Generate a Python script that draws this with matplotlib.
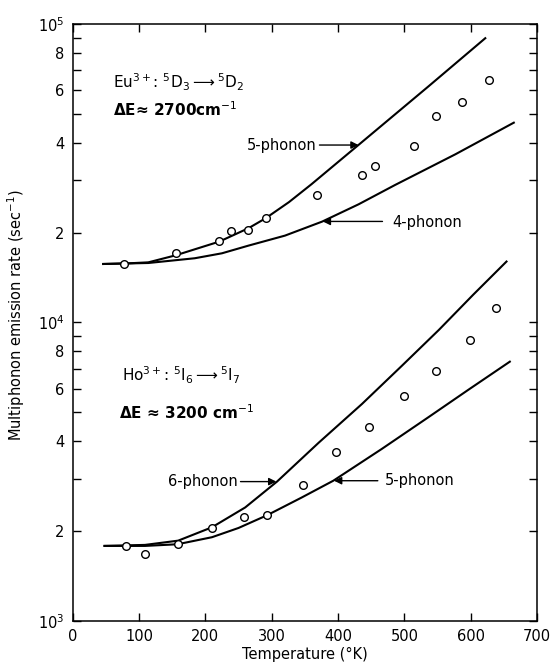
import numpy as np
import matplotlib
matplotlib.use("Agg")
import matplotlib.pyplot as plt
from matplotlib.ticker import LogLocator, FixedLocator, FuncFormatter

# -----------------------------------------------------------------------
# Data
# -----------------------------------------------------------------------

# Eu3+ 5D3 -> 5D2 (dE ~ 2700 cm^-1)
eu_T = [78, 155, 221, 238, 265, 291, 368, 436, 456, 514, 547, 587, 627]
eu_rate = [1.57e4, 1.71e4, 1.875e4, 2.03e4, 2.04e4, 2.24e4, 2.67e4,
           3.13e4, 3.35e4, 3.91e4, 4.93e4, 5.47e4, 6.49e4]

eu_5ph_T = [46, 84, 114, 155, 221, 265, 291, 326, 360, 431, 536, 622]
eu_5ph_rate = [1.57e4, 1.578e4, 1.59e4, 1.678e4, 1.866e4, 2.069e4, 2.235e4,
               2.53e4, 2.905e4, 3.935e4, 6.17e4, 8.96e4]

eu_4ph_T = [46, 114, 184, 225, 265, 320, 376, 431, 486, 577, 665]
eu_4ph_rate = [1.57e4, 1.582e4, 1.641e4, 1.705e4, 1.809e4, 1.954e4,
               2.177e4, 2.488e4, 2.888e4, 3.66e4, 4.67e4]

# Ho3+ 5I6 -> 5I7 (dE ~ 3200 cm^-1)
ho_T = [80, 109, 158, 210, 258, 293, 347, 397, 447, 499, 548, 599, 638]
ho_rate = [1.78e3, 1.67e3, 1.81e3, 2.05e3, 2.23e3, 2.26e3, 2.85e3,
           3.67e3, 4.45e3, 5.69e3, 6.86e3, 8.74e3, 1.12e4]

ho_6ph_T = [48, 109, 159, 210, 260, 308, 371, 436, 496, 552, 604, 654]
ho_6ph_rate = [1.784e3, 1.798e3, 1.858e3, 2.06e3, 2.40e3, 2.93e3,
               3.958e3, 5.33e3, 7.15e3, 9.44e3, 1.24e4, 1.60e4]

ho_5ph_T = [48, 109, 158, 210, 250, 293, 345, 393, 466, 536, 597, 659]
ho_5ph_rate = [1.784e3, 1.784e3, 1.807e3, 1.908e3, 2.049e3, 2.26e3,
               2.59e3, 2.951e3, 3.77e3, 4.81e3, 5.96e3, 7.39e3]

FS = 10.5

# -----------------------------------------------------------------------
# Figure
# -----------------------------------------------------------------------

fig = plt.figure(figsize=(5.55, 6.62), dpi=100)
ax = fig.add_axes([0.131, 0.062, 0.8366, 0.9018])

line_kw = dict(color="black", lw=1.5)
pt_kw = dict(ls="none", marker="o", ms=5.5, mfc="white", mec="black", mew=1.0)

ax.plot(eu_5ph_T, eu_5ph_rate, **line_kw)
ax.plot(eu_4ph_T, eu_4ph_rate, **line_kw)
ax.plot(eu_T, eu_rate, **pt_kw)

ax.plot(ho_6ph_T, ho_6ph_rate, **line_kw)
ax.plot(ho_5ph_T, ho_5ph_rate, **line_kw)
ax.plot(ho_T, ho_rate, **pt_kw)

ax.set_yscale("log")
ax.set_xlim(0, 700)
ax.set_ylim(1e3, 1e5)

ax.xaxis.set_major_locator(FixedLocator(np.arange(0, 701, 100)))
ax.yaxis.set_major_locator(LogLocator(base=10))
ax.yaxis.set_minor_locator(LogLocator(base=10, subs=np.arange(2, 10)))


def minor_label(v, pos):
    m = int(round(v / 10 ** np.floor(np.log10(v))))
    return str(m) if m in (2, 4, 6, 8) else ""


ax.yaxis.set_minor_formatter(FuncFormatter(minor_label))

ax.tick_params(which="both", direction="in", top=True, right=True,
               length=6, width=1.0, labelsize=FS, pad=6)
ax.tick_params(axis="x", which="minor", bottom=False, top=False)
for s in ax.spines.values():
    s.set_linewidth(1.1)

ax.set_xlabel("Temperature (°K)", fontsize=FS)
ax.xaxis.set_label_coords(0.5, -0.043)
ax.set_ylabel("Multiphonon emission rate (sec$^{-1}$)", fontsize=FS)
ax.yaxis.set_label_coords(-0.098, 0.513)

# labels for the two transitions
ax.text(61, 6.1e4, r"Eu$^{3+}$: $^5$D$_3$$\longrightarrow$$^5$D$_2$",
        fontsize=FS + 0.5, va="baseline", ha="left")
ax.text(61, 4.93e4, "ΔE≈ 2700cm$^{-1}$",
        fontsize=FS + 0.5, fontweight="bold", va="baseline", ha="left")
ax.text(74, 6.34e3, r"Ho$^{3+}$: $^5$I$_6$$\longrightarrow$$^5$I$_7$",
        fontsize=FS + 0.5, va="baseline", ha="left")
ax.text(70, 4.74e3, "ΔE ≈ 3200 cm$^{-1}$",
        fontsize=FS + 0.5, fontweight="bold", va="baseline", ha="left")

arrow_kw = dict(arrowstyle="-|>", color="black", lw=1.0, mutation_scale=11,
                shrinkA=0, shrinkB=0)

# Eu curve labels
ax.text(368, 3.93e4, "5-phonon", fontsize=FS, ha="right", va="center")
ax.annotate("", xy=(431, 3.93e4), xytext=(372, 3.93e4), arrowprops=arrow_kw)
ax.text(482, 2.16e4, "4-phonon", fontsize=FS, ha="left", va="center")
ax.annotate("", xy=(377, 2.18e4), xytext=(467, 2.18e4), arrowprops=arrow_kw)

# Ho curve labels
ax.text(249, 2.93e3, "6-phonon", fontsize=FS, ha="right", va="center")
ax.annotate("", xy=(307, 2.93e3), xytext=(253, 2.93e3), arrowprops=arrow_kw)
ax.text(471, 2.95e3, "5-phonon", fontsize=FS, ha="left", va="center")
ax.annotate("", xy=(394, 2.95e3), xytext=(460, 2.95e3), arrowprops=arrow_kw)

plt.savefig("out.png", dpi=100)
plt.close()
